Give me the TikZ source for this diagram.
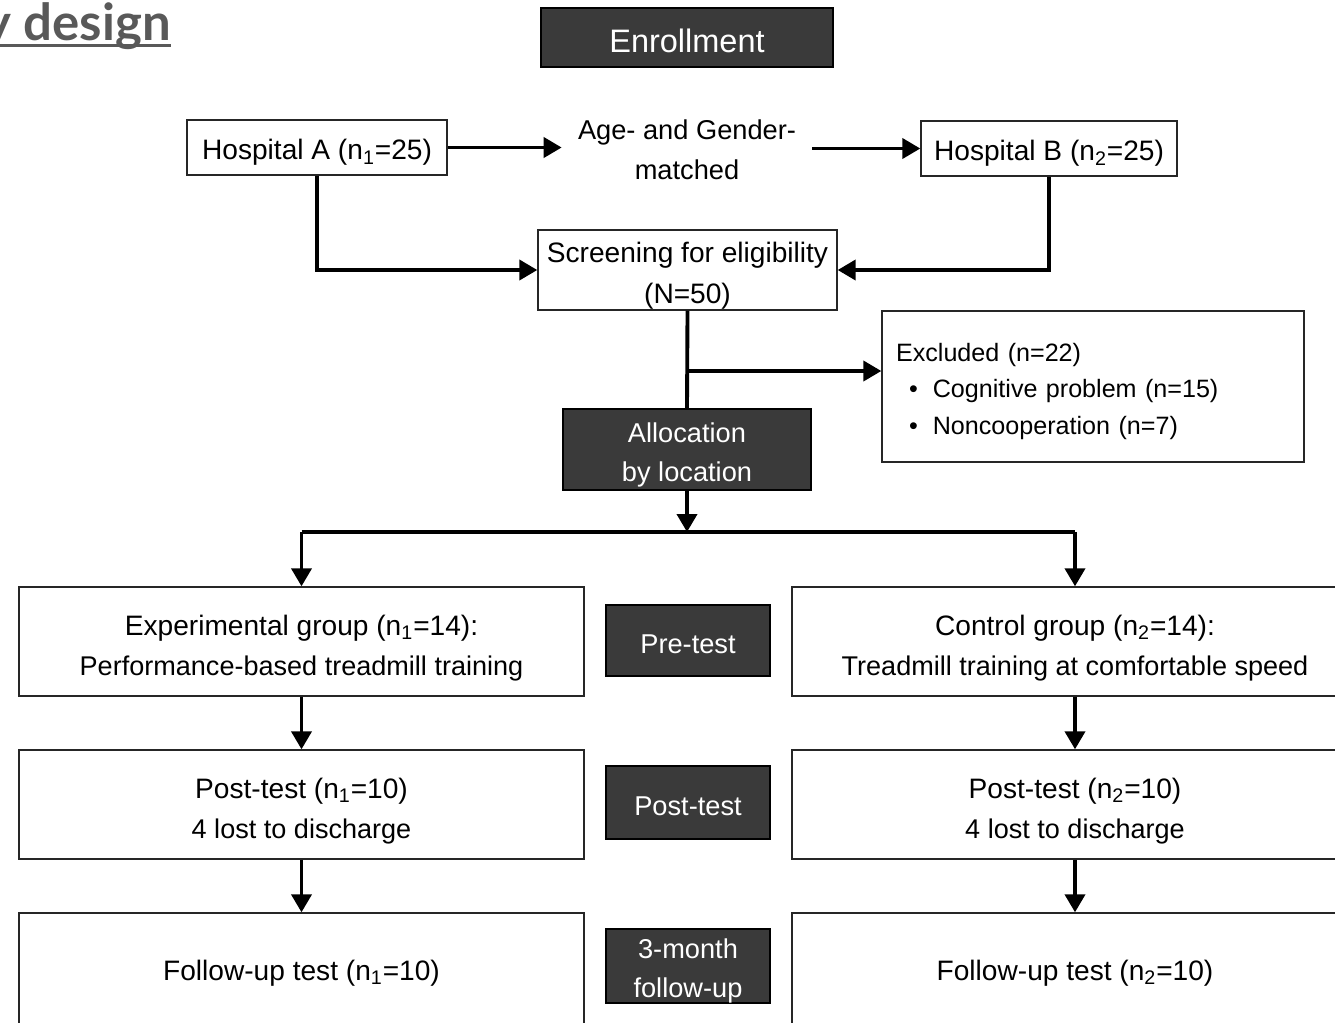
\documentclass[tikz,border=0pt]{standalone}
\usepackage{fontspec}
\setmainfont{Liberation Sans}
\newfontfamily\titlefont{Lato}
\usetikzlibrary{arrows.meta}
\definecolor{boxdark}{HTML}{3A3A3A}
\definecolor{titlegray}{HTML}{595959}
\newcommand{\lowh}{17.5pt}
\tikzset{
  lowtext/.store in=\lowh,
  box/.style={draw=black!85, line width=0.8pt, fill=white, inner sep=0pt, align=center, font=\fontsize{16}{23}\selectfont, lowtext=17.5pt, execute at begin node={\rule{0pt}{\lowh}}},
  darkbox/.style={draw=black, line width=0.8pt, fill=boxdark, text=white, inner sep=0pt, align=center, font=\fontsize{15.5}{22}\selectfont, lowtext=14.5pt, execute at begin node={\rule{0pt}{\lowh}}},
  arr/.style={line width=2.2pt, -{Triangle[length=0.36cm,width=0.4cm]}},
  link/.style={line width=2.2pt},
}
\begin{document}
\begin{tikzpicture}[x=0.02cm,y=-0.02cm]
  \useasboundingbox (0,0) rectangle (1335,1022);
  \clip (0,0) rectangle (1335,1022);
  % title, cut at the left edge
  \draw (171,40) node[anchor=base east, inner sep=0pt, text=titlegray, font=\titlefont\bfseries\fontsize{29}{32}\selectfont](title){Study design};
  \draw[titlegray, line width=1.6pt] ([yshift=-3pt]title.base west) -- ([yshift=-3pt]title.base east);
  % enrollment
  \draw (687,37.5) node[darkbox, minimum width=5.84cm, minimum height=1.18cm, font=\fontsize{18.5}{22}\selectfont, lowtext=17pt](enroll){Enrollment};
  \draw (317,147.5) node[box, minimum width=5.2cm, minimum height=1.1cm](hosA){Hospital A (n\textsubscript{1}=25)};
  \draw (687,150) node[inner sep=0pt, minimum width=5cm, align=center, font=\fontsize{15.5}{23}\selectfont](match){Age- and Gender-\\matched};
  \draw (1049,148.5) node[box, minimum width=5.12cm, minimum height=1.1cm](hosB){Hospital B (n\textsubscript{2}=25)};
  \draw (687.5,270) node[box, minimum width=5.98cm, minimum height=1.6cm, lowtext=41pt](screen){Screening for eligibility\\(N=50)};
  \draw (1093,386.5) node[box, minimum width=8.44cm, minimum height=3.02cm, text width=7.88cm, align=left, font=\fontsize{14.3}{21}\selectfont, lowtext=16pt](excl){Excluded (n=22)\\
    \hspace*{0.26cm}\textbullet\hspace{0.3cm}Cognitive problem (n=15)\\
    \hspace*{0.26cm}\textbullet\hspace{0.3cm}Noncooperation (n=7)};
  \draw (687,449.5) node[darkbox, minimum width=4.96cm, minimum height=1.62cm, lowtext=39.8pt](alloc){Allocation\\by location};
  % groups
  \draw (301.5,641.5) node[box, minimum width=11.3cm, minimum height=2.18cm, lowtext=41.8pt](expG){Experimental group (n\textsubscript{1}=14):\\{\fontsize{15.4}{23}\selectfont Performance-based treadmill training}};
  \draw (688,640.5) node[darkbox, minimum width=3.28cm, minimum height=1.42cm](pre){Pre-test};
  \draw (1075,641.5) node[box, minimum width=11.32cm, minimum height=2.18cm, lowtext=41.8pt](ctrlG){Control group (n\textsubscript{2}=14):\\{\fontsize{15.4}{23}\selectfont Treadmill training at comfortable speed}};
  \draw (301.5,804.5) node[box, minimum width=11.3cm, minimum height=2.18cm, lowtext=41.8pt](postE){Post-test (n\textsubscript{1}=10)\\{\fontsize{15.4}{23}\selectfont 4 lost to discharge}};
  \draw (688,802.5) node[darkbox, minimum width=3.28cm, minimum height=1.46cm](post){Post-test};
  \draw (1075,804.5) node[box, minimum width=11.32cm, minimum height=2.18cm, lowtext=41.8pt](postC){Post-test (n\textsubscript{2}=10)\\{\fontsize{15.4}{23}\selectfont 4 lost to discharge}};
  \draw (301.5,971) node[box, minimum width=11.3cm, minimum height=2.32cm, lowtext=14pt](fuE){Follow-up test (n\textsubscript{1}=10)};
  \draw (688,966) node[darkbox, minimum width=3.28cm, minimum height=1.48cm, lowtext=38.5pt](fu){3-month\\follow-up};
  \draw (1075,971) node[box, minimum width=11.32cm, minimum height=2.32cm, lowtext=14pt](fuC){Follow-up test (n\textsubscript{2}=10)};
  % connectors
  \draw[arr] (hosA.east) -- (match.west |- hosA.east);
  \draw[arr] (match.east |- hosB.west) -- (hosB.west);
  \draw[arr] (hosA.south) |- (screen.west);
  \draw[arr] (hosB.south) |- (screen.east);
  \draw[link] (screen.south) -- (alloc.north);
  \coordinate (branch) at (688,371);
  \draw[arr] (branch) -- (branch -| excl.west);
  \coordinate (split) at (687,532);
  \draw[arr] (alloc.south) -- (split);
  \draw[link] (split -| expG.north) -- (split -| ctrlG.north);
  \draw[arr] (split -| expG.north) -- (expG.north);
  \draw[arr] (split -| ctrlG.north) -- (ctrlG.north);
  \foreach \a/\b in {expG/postE, postE/fuE, ctrlG/postC, postC/fuC}
    \draw[arr] (\a) -- (\b);
\end{tikzpicture}
\end{document}
